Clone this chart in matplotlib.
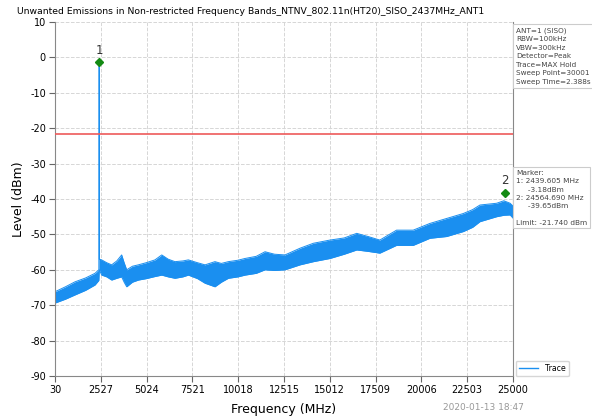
import matplotlib
matplotlib.use("Agg")
import matplotlib.pyplot as plt
from matplotlib.lines import Line2D

title = "Unwanted Emissions in Non-restricted Frequency Bands_NTNV_802.11n(HT20)_SISO_2437MHz_ANT1"

# trace envelope (MHz, dBm)
freq = [30, 600, 1120, 1700, 2210, 2420, 2437, 2452, 2575, 2850, 3120, 3400, 3665, 3800,
        3940, 4250, 4575, 5000, 5480, 5850, 6200, 6570, 7000, 7300, 7800, 8210, 8750,
        9100, 9480, 10000, 10390, 11000, 11480, 12000, 12570, 13390, 14120, 15020,
        15800, 16480, 17100, 17740, 18650, 19560, 20470, 21380, 22290, 22800, 23200,
        24110, 24500, 24840, 25000]
upper = [-66.2, -64.8, -63.4, -62.3, -61.0, -60.0, -1.5, -57.0, -57.2, -58.0, -58.6, -57.5,
         -55.8, -58.0, -60.0, -59.0, -58.6, -58.0, -57.2, -55.8, -57.0, -57.7, -57.5, -57.2,
         -58.0, -58.6, -57.7, -58.2, -57.7, -57.3, -56.8, -56.2, -54.9, -55.6, -55.8, -53.9,
         -52.5, -51.6, -51.0, -49.7, -50.6, -51.6, -48.8, -48.8, -46.9, -45.5, -44.1, -43.0,
         -41.7, -41.2, -40.5, -41.2, -42.0]
lower = [-69.4, -68.3, -67.1, -65.8, -64.3, -63.0, -61.0, -60.0, -61.5, -62.0, -62.9, -62.4,
         -62.0, -63.5, -64.8, -63.5, -62.9, -62.5, -61.9, -61.5, -62.0, -62.4, -62.0, -61.5,
         -62.5, -63.8, -64.8, -63.5, -62.4, -62.0, -61.5, -61.0, -60.0, -60.2, -60.0, -58.6,
         -57.7, -56.8, -55.6, -54.4, -54.8, -55.3, -53.1, -53.1, -51.1, -50.6, -49.2, -48.0,
         -46.4, -45.0, -44.6, -44.5, -45.4]

limit = -21.74
marker_freq = [2439.605, 24564.690]
marker_level = [-3.18, -39.65]
marker_drawn = [-1.4, -38.2]   # where the markers sit in the picture
marker_labels = ["1", "2"]

xticks = [30, 2527, 5024, 7521, 10018, 12515, 15012, 17509, 20006, 22503, 25000]
yticks = list(range(-90, 11, 10))

info_lines = ["ANT=1 (SISO)", "RBW=100kHz", "VBW=300kHz", "Detector=Peak",
              "Trace=MAX Hold", "Sweep Point=30001", "Sweep Time=2.388s"]

trace_color = "#1a8ff0"

fig = plt.figure(figsize=(5.92, 4.19), dpi=100)
ax = fig.add_axes([55/592, 1-376/419, (513-55)/592, (376-22)/419])

ax.fill_between(freq, lower, upper, color=trace_color, lw=0, zorder=2)
ax.plot(freq, upper, color=trace_color, lw=0.7, zorder=2)
ax.plot(freq, lower, color=trace_color, lw=0.7, zorder=2)
ax.axhline(limit, color="#ee5a5a", lw=1.2, zorder=3)

for f, lv, lab in zip(marker_freq, marker_drawn, marker_labels):
    ax.plot([f], [lv], marker="D", color="#138a13", ms=4.5, zorder=4, ls="none")
    ax.text(f, lv + 1.6, lab, ha="center", va="bottom", fontsize=8.5, color="#333333")

ax.set_xlim(30, 25000)
ax.set_ylim(-90, 10)
ax.set_xticks(xticks)
ax.set_xticklabels([str(t) for t in xticks], fontsize=7)
ax.set_yticks(yticks)
ax.set_yticklabels([str(t) for t in yticks], fontsize=7)
ax.grid(True, ls="--", color="#d6d6d6", lw=0.7)
ax.set_axisbelow(True)
for s in ax.spines.values():
    s.set_color("#888888")
ax.spines["top"].set_visible(False)
ax.tick_params(length=4, color="#666666", width=0.8, pad=2.5)
ax.set_xlabel("Frequency (MHz)", fontsize=9, labelpad=6)
ax.set_ylabel("Level (dBm)", fontsize=9, labelpad=4)

fig.text(251/592, 1-12/419, title, ha="center", va="center", fontsize=6.7)

box = dict(boxstyle="square,pad=0.4", fc="white", ec="#cccccc", lw=0.8)
fig.text(516/592, 1-27/419, "\n".join(info_lines), ha="left", va="top",
         fontsize=5.2, color="#444444", linespacing=1.52, bbox=box)

marker_text = ("Marker:\n"
               f"1: {marker_freq[0]:.3f} MHz\n     {marker_level[0]:.2f}dBm\n"
               f"2: {marker_freq[1]:.3f} MHz\n     {marker_level[1]:.2f}dBm\n\n"
               f"Limit: {limit:.3f} dBm")
fig.text(516/592, 1-170/419, marker_text, ha="left", va="top",
         fontsize=5.3, color="#444444", linespacing=1.45, bbox=box)

handle = Line2D([0], [0], color=trace_color, lw=1)
fig.legend([handle], ["Trace"], loc="lower left", bbox_to_anchor=(512/592, 1-380/419),
           fontsize=5.6, frameon=True, edgecolor="#cccccc", handlelength=2.5,
           borderpad=0.4, fancybox=True)

fig.text(483/592, 1-407/419, "2020-01-13 18:47", ha="center", va="center",
         fontsize=6.5, color="#999999")

fig.savefig("out.png", dpi=100)
